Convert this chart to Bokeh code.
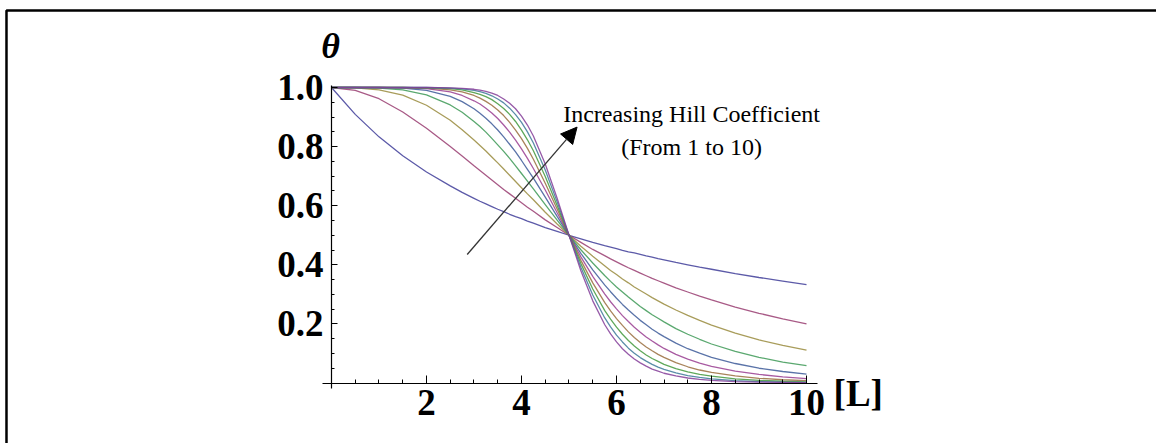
from bokeh.plotting import figure
from bokeh.models import (Range1d, FixedTicker, PrintfTickFormatter, Label, Arrow,
                          NormalHead, BoxAnnotation)
from bokeh.embed import file_html
from bokeh.resources import INLINE

# ligand concentration [L] (half-saturation at 5)
ligand = [0, 0.5, 1, 1.5, 2, 2.5, 2.75, 3, 3.125, 3.25, 3.375, 3.5, 3.625, 3.75,
          3.875, 4, 4.125, 4.25, 4.5, 4.75, 5, 5.25, 5.5, 5.75, 5.875, 6, 6.125,
          6.25, 6.375, 6.5, 6.625, 6.75, 6.875, 7, 7.25, 7.5, 7.75, 8, 8.5, 9,
          9.5, 10]

# fractional saturation theta for Hill coefficients 1 .. 10
theta_n1 = [1.0, 0.909, 0.833, 0.769, 0.714, 0.667, 0.645, 0.625, 0.615, 0.606, 0.597, 0.588, 0.580, 0.571,
            0.563, 0.556, 0.548, 0.541, 0.526, 0.513, 0.5, 0.488, 0.476, 0.465, 0.460, 0.455, 0.449,
            0.444, 0.440, 0.435, 0.430, 0.426, 0.421, 0.417, 0.408, 0.400, 0.392, 0.385, 0.370, 0.357,
            0.345, 0.333]
theta_n2 = [1.0, 0.990, 0.962, 0.917, 0.862, 0.800, 0.768, 0.735, 0.719, 0.703, 0.687, 0.671, 0.655, 0.640,
            0.625, 0.610, 0.595, 0.581, 0.552, 0.526, 0.5, 0.476, 0.452, 0.431, 0.420, 0.410, 0.400,
            0.390, 0.381, 0.372, 0.363, 0.354, 0.346, 0.338, 0.322, 0.308, 0.294, 0.281, 0.257, 0.236,
            0.217, 0.200]
theta_n3 = [1.0, 0.999, 0.992, 0.974, 0.940, 0.889, 0.857, 0.822, 0.804, 0.785, 0.765, 0.745, 0.724, 0.703,
            0.682, 0.661, 0.640, 0.620, 0.578, 0.538, 0.5, 0.463, 0.429, 0.397, 0.381, 0.367, 0.352,
            0.339, 0.325, 0.313, 0.301, 0.289, 0.278, 0.267, 0.247, 0.229, 0.212, 0.196, 0.169, 0.146,
            0.127, 0.111]
theta_n4 = [1.0, 1.0, 0.998, 0.992, 0.975, 0.941, 0.916, 0.885, 0.868, 0.849, 0.828, 0.806, 0.784, 0.760,
            0.735, 0.709, 0.683, 0.657, 0.604, 0.551, 0.5, 0.451, 0.406, 0.364, 0.344, 0.325, 0.308,
            0.291, 0.275, 0.259, 0.245, 0.231, 0.219, 0.207, 0.184, 0.165, 0.148, 0.132, 0.107, 0.087,
            0.071, 0.059]
theta_n5 = [1.0, 1.0, 1.0, 0.998, 0.990, 0.970, 0.952, 0.928, 0.913, 0.896, 0.877, 0.856, 0.833, 0.808,
            0.782, 0.753, 0.723, 0.693, 0.629, 0.564, 0.5, 0.439, 0.383, 0.332, 0.309, 0.287, 0.266,
            0.247, 0.229, 0.212, 0.197, 0.182, 0.169, 0.157, 0.135, 0.116, 0.101, 0.087, 0.066, 0.050,
            0.039, 0.030]
theta_n6 = [1.0, 1.0, 1.0, 0.999, 0.996, 0.985, 0.973, 0.955, 0.944, 0.930, 0.914, 0.895, 0.873, 0.849,
            0.822, 0.792, 0.760, 0.726, 0.653, 0.576, 0.5, 0.427, 0.361, 0.302, 0.275, 0.251, 0.228,
            0.208, 0.189, 0.172, 0.156, 0.142, 0.129, 0.117, 0.097, 0.081, 0.067, 0.056, 0.040, 0.029,
            0.021, 0.015]
theta_n7 = [1.0, 1.0, 1.0, 1.0, 0.998, 0.992, 0.985, 0.973, 0.964, 0.953, 0.940, 0.924, 0.905, 0.882,
            0.856, 0.827, 0.794, 0.757, 0.676, 0.589, 0.5, 0.415, 0.339, 0.273, 0.244, 0.218, 0.195,
            0.173, 0.154, 0.137, 0.122, 0.109, 0.097, 0.087, 0.069, 0.055, 0.044, 0.036, 0.024, 0.016,
            0.011, 0.008]
theta_n8 = [1.0, 1.0, 1.0, 1.0, 0.999, 0.996, 0.992, 0.983, 0.977, 0.969, 0.959, 0.945, 0.929, 0.909,
            0.885, 0.856, 0.823, 0.786, 0.699, 0.601, 0.5, 0.404, 0.318, 0.246, 0.216, 0.189, 0.165,
            0.144, 0.125, 0.109, 0.095, 0.083, 0.073, 0.063, 0.049, 0.038, 0.029, 0.023, 0.014, 0.009,
            0.006, 0.004]
theta_n9 = [1.0, 1.0, 1.0, 1.0, 1.0, 0.998, 0.995, 0.990, 0.986, 0.980, 0.972, 0.961, 0.948, 0.930,
            0.908, 0.882, 0.850, 0.812, 0.721, 0.613, 0.5, 0.392, 0.298, 0.221, 0.190, 0.162, 0.139,
            0.118, 0.101, 0.086, 0.074, 0.063, 0.054, 0.046, 0.034, 0.025, 0.019, 0.014, 0.008, 0.005,
            0.003, 0.002]
theta_n10 = [1.0, 1.0, 1.0, 1.0, 1.0, 0.999, 0.997, 0.994, 0.991, 0.987, 0.981, 0.973, 0.961, 0.947,
             0.928, 0.903, 0.873, 0.836, 0.741, 0.625, 0.5, 0.380, 0.278, 0.198, 0.166, 0.139, 0.116,
             0.097, 0.081, 0.068, 0.057, 0.047, 0.040, 0.033, 0.024, 0.017, 0.012, 0.009, 0.005, 0.003,
             0.002, 0.001]

curves = [theta_n1, theta_n2, theta_n3, theta_n4, theta_n5,
          theta_n6, theta_n7, theta_n8, theta_n9, theta_n10]

x_ticks = [2, 4, 6, 8, 10]
x_minor = [0.5, 1, 1.5, 2.5, 3, 3.5, 4.5, 5, 5.5, 6.5, 7, 7.5, 8.5, 9, 9.5]
y_ticks = [0.2, 0.4, 0.6, 0.8, 1.0]
y_minor = [0.05, 0.1, 0.15, 0.25, 0.3, 0.35, 0.45, 0.5, 0.55, 0.65, 0.7, 0.75,
           0.85, 0.9, 0.95]

palette = ["#3f3d99", "#993d71", "#998b3d", "#3d9956", "#3d5a99",
           "#993d90", "#996d3d", "#43993d", "#3d7999", "#843d99"]

SERIF = "Liberation Serif"

# the frame fills the whole canvas; the axes cross at the origin inside it
p = figure(width=1156, height=443,
           x_range=Range1d(-6.968, 17.368), y_range=Range1d(-0.2047, 1.2944),
           output_backend="svg", toolbar_location=None,
           min_border_left=0, min_border_right=0,
           min_border_top=0, min_border_bottom=0,
           background_fill_color="white", border_fill_color="white",
           outline_line_color=None)
p.xgrid.visible = False
p.ygrid.visible = False

for ys, col in zip(curves, palette):
    p.line(ligand, ys, line_color=col, line_width=1.3, line_alpha=0.85)

xa = p.xaxis[0]
xa.fixed_location = 0
xa.bounds = (-0.189, 10.232)
xa.ticker = FixedTicker(ticks=x_ticks, minor_ticks=x_minor)
xa.major_tick_in = 8
xa.major_tick_out = 0
xa.minor_tick_in = 4
xa.minor_tick_out = 0
xa.major_label_standoff = 7

ya = p.yaxis[0]
ya.fixed_location = 0
ya.bounds = (-0.0186, 1.0068)
ya.ticker = FixedTicker(ticks=y_ticks, minor_ticks=y_minor)
ya.formatter = PrintfTickFormatter(format="%.1f")
ya.major_tick_in = 6
ya.major_tick_out = 0
ya.minor_tick_in = 3
ya.minor_tick_out = 0
ya.major_label_standoff = 8

for ax in (xa, ya):
    ax.axis_line_color = "black"
    ax.axis_line_width = 1.2
    ax.major_tick_line_color = "black"
    ax.minor_tick_line_color = "black"
    ax.major_label_text_font = SERIF
    ax.major_label_text_font_style = "bold"
    ax.major_label_text_font_size = "37px"
    ax.major_label_text_color = "black"

# axis titles
p.add_layout(Label(x=-0.02, y=1.139, text="θ", text_align="center",
                   text_baseline="middle", text_font=SERIF,
                   text_font_style="bold italic", text_font_size="36px",
                   text_color="black"))
p.add_layout(Label(x=10.57, y=-0.0355, text="[L]", text_align="left",
                   text_baseline="alphabetic", text_font=SERIF,
                   text_font_style="bold", text_font_size="37px",
                   text_color="black"))

# annotation arrow and caption
p.add_layout(Arrow(end=NormalHead(size=16, fill_color="black", line_color="black"),
                   x_start=2.857, y_start=0.435, x_end=5.17, y_end=0.866,
                   line_color="#333333", line_width=1.3))
p.add_layout(Label(x=7.58, y=0.912, text="Increasing Hill Coefficient",
                   text_align="center", text_baseline="alphabetic",
                   text_font=SERIF, text_font_size="24px", text_color="black"))
p.add_layout(Label(x=7.58, y=0.798, text="(From 1 to 10)",
                   text_align="center", text_baseline="alphabetic",
                   text_font=SERIF, text_font_size="24px", text_color="black"))

# frame lines along the top and left edges of the figure
p.add_layout(BoxAnnotation(left=-6.842, right=40, top=1.2606, bottom=-2,
                           fill_alpha=0, line_color="black", line_alpha=1.0,
                           line_width=2.5))

open("out.html", "w").write(file_html(p, INLINE))
